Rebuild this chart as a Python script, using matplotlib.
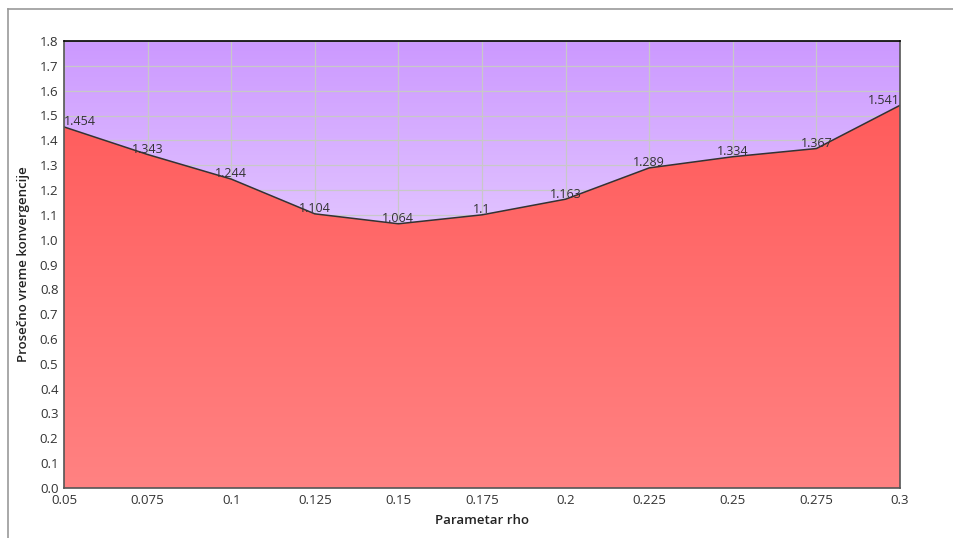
import numpy as np
import matplotlib
matplotlib.use('Agg')
import matplotlib.pyplot as plt
from matplotlib.colors import LinearSegmentedColormap
from matplotlib.patches import Polygon
from matplotlib.lines import Line2D

plt.rcParams['font.family'] = ['Open Sans', 'DejaVu Sans']

# vrednosti parametra rho i prosecno vreme konvergencije
rho = [0.05, 0.075, 0.1, 0.125, 0.15, 0.175, 0.2, 0.225, 0.25, 0.275, 0.3]
rho_labels = ['0.05', '0.075', '0.1', '0.125', '0.15', '0.175', '0.2', '0.225', '0.25', '0.275', '0.3']
vreme = [1.454, 1.343, 1.244, 1.104, 1.064, 1.1, 1.163, 1.289, 1.334, 1.367, 1.541]
y_ticks = [round(0.1 * i, 1) for i in range(19)]

fig = plt.figure(figsize=(9.54, 5.38), dpi=100)
ax = fig.add_axes([64 / 954, 1 - 488 / 538, 836 / 954, 447 / 538])

x0, x1 = rho[0], rho[-1]
ymax = 1.8
ax.set_xlim(x0, x1)
ax.set_ylim(0, ymax)

# pozadina: ljubicasti gradijent
bg_cmap = LinearSegmentedColormap.from_list('bg', ['#ffffff', '#cc99ff'])
grad = np.linspace(0, 1, 256).reshape(-1, 1)
ax.imshow(grad, cmap=bg_cmap, origin='lower', aspect='auto',
          extent=[x0, x1, 0, ymax], zorder=0)

ax.set_xticks(rho)
ax.set_xticklabels(rho_labels)
ax.set_yticks(y_ticks)
ax.set_yticklabels([f'{t:.1f}' for t in y_ticks])
ax.set_axisbelow(True)
ax.grid(True, color='#c8c8c8', linewidth=0.9)

# povrsina ispod krive: crveni gradijent
red_cmap = LinearSegmentedColormap.from_list('red', ['#ff8282', '#ff5c5c'])
top = max(vreme)
im = ax.imshow(grad, cmap=red_cmap, origin='lower', aspect='auto',
               extent=[x0, x1, 0, top], zorder=2)
poly = Polygon([(x0, 0)] + list(zip(rho, vreme)) + [(x1, 0)],
               closed=True, facecolor='none', edgecolor='none')
ax.add_patch(poly)
im.set_clip_path(poly)
ax.set_ylim(0, ymax)

ax.plot(rho, vreme, color='#333333', linewidth=1.1, zorder=3)

for i, (x, y) in enumerate(zip(rho, vreme)):
    ha = 'center'
    if i == 0:
        ha = 'left'
    elif i == len(rho) - 1:
        ha = 'right'
    ax.annotate(f'{y:g}', (x, y), xytext=(0, -1), textcoords='offset points',
                ha=ha, va='bottom', fontsize=9, color='#333333', zorder=4)

for side in ['left', 'right', 'bottom']:
    ax.spines[side].set_color('#555555')
    ax.spines[side].set_linewidth(1.2)
ax.spines['top'].set_color('#000000')
ax.spines['top'].set_linewidth(1.2)
for s in ax.spines.values():
    s.set_zorder(5)

ax.tick_params(length=0, labelsize=9.5, labelcolor='#333333', pad=4)
ax.set_xlabel('Parametar rho', fontsize=9.5, fontweight='semibold', color='#222222', labelpad=5)
ax.set_ylabel('Prosečno vreme konvergencije', fontsize=9.5, fontweight='semibold',
              color='#222222', labelpad=7)

# okvir oko grafika
fig.add_artist(Line2D([8 / 954, 1], [1 - 9 / 538, 1 - 9 / 538], color='#999999', linewidth=1.2))
fig.add_artist(Line2D([8 / 954, 8 / 954], [1 - 9 / 538, 0], color='#999999', linewidth=1.2))

fig.savefig('out.png', dpi=100)
